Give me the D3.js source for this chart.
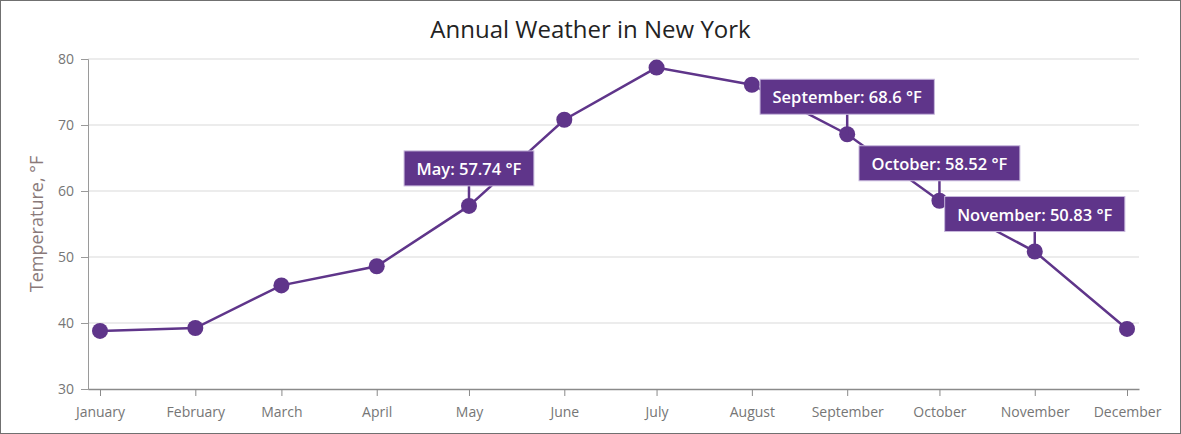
<!DOCTYPE html>
<html><head><meta charset="utf-8">
<script src="https://cdn.jsdelivr.net/npm/d3@7"></script>
<style>
html,body{margin:0;padding:0;background:#fff;}
svg{display:block;}
text{font-family:"Segoe UI","Open Sans","Noto Sans",sans-serif;}
</style></head>
<body>
<svg id="chart" width="1181" height="434"></svg>
<script>
const months = ["January","February","March","April","May","June","July","August","September","October","November","December"];
const temps = [38.8, 39.24, 45.7, 48.6, 57.74, 70.8, 78.7, 76.1, 68.6, 58.52, 50.83, 39.1];
const annotated = ["May","September","October","November"];
const yTicks = [30, 40, 50, 60, 70, 80];
const unit = " °F";

const W = 1181, H = 434;
const margin = {left: 88, right: 42, top: 59, bottom: 45};
const color = "#5f358a";
const svg = d3.select("#chart");

svg.append("rect").attr("x",0.5).attr("y",0.5).attr("width",W-1).attr("height",H-1)
  .attr("fill","#fff").attr("stroke","#707070");

const dates = months.map((m,i)=>new Date(2017, i, 1));
const pad = 3.9*24*3600*1000;
const x = d3.scaleTime()
  .domain([new Date(+dates[0]-pad), new Date(+dates[11]+pad)])
  .range([margin.left, W-margin.right]);
const y = d3.scaleLinear().domain([30,80]).range([H-margin.bottom, margin.top]);

// grid
svg.append("g").selectAll("line").data(yTicks.slice(1)).join("line")
  .attr("x1", margin.left).attr("x2", W-margin.right)
  .attr("y1", d=>y(d)).attr("y2", d=>y(d))
  .attr("stroke","#d9d9d9").attr("stroke-width",1);

// y axis
const yAxis = svg.append("g").attr("transform",`translate(${margin.left},0)`)
  .call(d3.axisLeft(y).tickValues(yTicks).tickSize(7).tickPadding(7));
yAxis.select(".domain").attr("stroke","#9a9a9a").attr("stroke-width",1);
yAxis.selectAll(".tick line").attr("stroke","#9a9a9a");
yAxis.selectAll(".tick text").attr("fill","#767676").style("font-size","14px")
  .style("font-family",'"Segoe UI","Open Sans",sans-serif');

// x axis
const xAxis = svg.append("g").attr("transform",`translate(0,${H-margin.bottom})`)
  .call(d3.axisBottom(x).tickValues(dates).tickFormat((d,i)=>months[i]).tickSize(7).tickPadding(11).tickSizeOuter(0));
xAxis.select(".domain").attr("stroke","#8a8a8a").attr("stroke-width",1.5);
xAxis.selectAll(".tick line").attr("stroke","#8a8a8a");
xAxis.selectAll(".tick text").attr("fill","#767676").style("font-size","14px")
  .style("font-family",'"Segoe UI","Open Sans",sans-serif');

// title
svg.append("text").attr("x", W/2).attr("y", 38).attr("text-anchor","middle")
  .attr("fill","#232323").style("font-size","24px").style("font-weight","400")
  .text("Annual Weather in New York");

// y axis title
svg.append("text").attr("transform",`translate(43,${(margin.top + H - margin.bottom)/2}) rotate(-90)`)
  .attr("text-anchor","middle").attr("fill","#8a7a7a").style("font-size","18px")
  .text("Temperature, °F");

// line
const line = d3.line().x((d,i)=>x(dates[i])).y(d=>y(d));
svg.append("path").datum(temps).attr("d", line)
  .attr("fill","none").attr("stroke",color).attr("stroke-width",2.5);

// points
svg.append("g").selectAll("circle").data(temps).join("circle")
  .attr("cx",(d,i)=>x(dates[i])).attr("cy",d=>y(d)).attr("r",8).attr("fill",color);

// annotations
const ann = svg.append("g");
months.forEach((m,i)=>{
  if(!annotated.includes(m)) return;
  const px = x(dates[i]), py = y(temps[i]);
  const g = ann.append("g");
  g.append("line").attr("x1",px).attr("x2",px).attr("y1",py).attr("y2",py-20)
    .attr("stroke",color).attr("stroke-width",2.5);
  const rect = g.append("rect").attr("fill",color).attr("stroke","#c7b8dc").attr("stroke-width",1);
  const t = g.append("text").attr("x",px).attr("y",py-20-11).attr("text-anchor","middle")
    .attr("fill","#fff").style("font-size","16.5px").style("font-weight","600")
    .text(`${m}: ${temps[i]}${unit}`);
  const bw = t.node().getComputedTextLength() + 25;
  rect.attr("x", px-bw/2).attr("y", py-20-35).attr("width", bw).attr("height",35);
});
</script>
</body></html>
